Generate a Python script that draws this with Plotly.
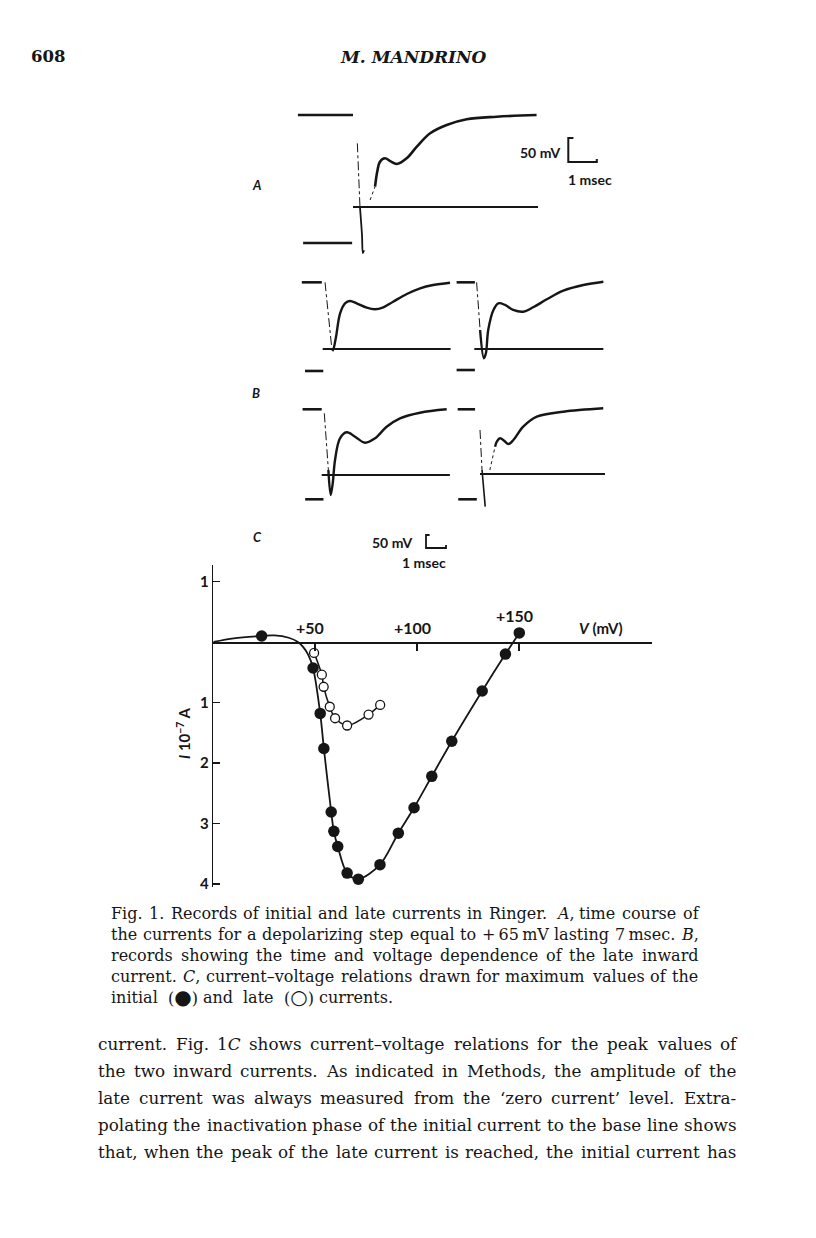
import re
import plotly.graph_objects as go

# Reference page is 816 x 1238; the browser page adds an 8 px body margin,
# so the figure itself is 800 x 1222 and all reference pixels are shifted by 8.
PAGE_W, PAGE_H = 816, 1238
OFF = 8
FW, FH = PAGE_W - 2 * OFF, PAGE_H - 2 * OFF
INK = "#161616"

# ---------------- Fig. 1C : current-voltage relations ----------------
# V in mV, I in units of 1e-7 A (negative = inward, plotted downward)
init_v = [23.7, 48.9, 52.4, 54.2, 57.8, 59.1, 61.0, 65.6, 71.1, 81.7, 90.7, 98.4,
          107.1, 116.9, 131.8, 143.2, 150.0]
init_i = [0.10, -0.43, -1.18, -1.76, -2.81, -3.13, -3.38, -3.82, -3.92, -3.68, -3.16,
          -2.74, -2.22, -1.64, -0.81, -0.20, 0.15]
late_v = [49.4, 53.2, 54.1, 57.1, 59.7, 65.6, 76.1, 81.8]
late_i = [-0.18, -0.54, -0.74, -1.07, -1.26, -1.38, -1.20, -1.04]
# hand-drawn smooth curve through the initial-current points
init_curve_v = [0, 10, 23.7, 30, 37, 41.5, 44, 46.5, 48.9, 52.4, 54.2, 57.8, 59.1, 61.0,
                65.6, 71.1, 81.7, 90.7, 98.4, 107.1, 116.9, 131.8, 143.2, 150.0]
init_curve_i = [0, 0.06, 0.10, 0.11, 0.07, 0.0, -0.08, -0.21, -0.43, -1.18, -1.76, -2.81,
                -3.13, -3.38, -3.82, -3.92, -3.68, -3.16, -2.74, -2.22, -1.64, -0.81,
                -0.20, 0.15]
y_tick_vals = [1, -1, -2, -3, -4]
y_tick_text = ["1", "1", "2", "3", "4"]
x_tick_vals = [50, 100, 150]
x_tick_text = ["+50", "+100", "+150"]

# ---------------- Fig. 1A / 1B : records (t in msec, v in mV-scale) ----------------
A_hold_t, A_hold_v = [-1.90, 0.00], [191.7, 191.7]
A_step_t, A_step_v = [-1.72, -0.03], [-75.0, -75.0]
A_base_t, A_base_v = [0.0, 6.38], [0.0, 0.0]
A_art_t, A_art_v = [0.15, 0.24], [132.7, 0.6]
A_dip_t, A_dip_v = [0.24, 0.31, 0.34, 0.38], [0.0, -58.0, -96.0, -90.0]
A_gap_t, A_gap_v = [0.59, 0.76], [14.6, 42.3]
A_curve_t = [0.76, 0.84, 0.93, 1.10, 1.30, 1.51, 1.85, 2.20, 2.66, 3.23, 3.92, 4.96, 6.33]
A_curve_v = [42.3, 75.0, 94.4, 101.5, 95.0, 89.6, 101.5, 125.6, 153.5, 170.8, 182.7, 188.1, 191.7]

B1_hold_t, B1_hold_v = [-0.72, -0.03], [138.9, 138.9]
B1_step_t, B1_step_v = [-0.61, 0.02], [-45.8, -45.8]
B1_base_t, B1_base_v = [0.0, 4.41], [0.0, 0.0]
B1_art_t, B1_art_v = [0.08, 0.31], [139.0, 3.5]
B1_curve_t = [0.33, 0.37, 0.46, 0.60, 0.77, 0.94, 1.17, 1.52, 1.80, 2.09, 2.43, 2.90, 3.36, 3.81, 4.39]
B1_curve_v = [-4.0, 0.0, 25.6, 74.4, 95.2, 100.0, 95.2, 86.0, 82.7, 86.9, 98.5, 114.6, 126.5, 133.3, 138.1]

B2_hold_t, B2_hold_v = [-0.61, 0.02], [138.9, 138.9]
B2_step_t, B2_step_v = [-0.61, 0.02], [-43.8, -43.8]
B2_base_t, B2_base_v = [0.0, 4.45], [0.0, 0.0]
B2_art_t, B2_art_v = [0.08, 0.20], [139.0, 39.6]
B2_curve_t = [0.20, 0.33, 0.40, 0.48, 0.66, 0.83, 1.06, 1.34, 1.69, 2.03, 2.50, 3.07, 3.76, 4.45]
B2_curve_v = [39.6, -19.4, -9.0, 39.6, 81.3, 95.2, 91.7, 81.3, 77.7, 86.9, 103.5, 121.5, 133.3, 140.2]

B3_hold_t, B3_hold_v = [-0.66, 0.0], [136.9, 136.9]
B3_step_t, B3_step_v = [-0.57, 0.06], [-50.6, -50.6]
B3_base_t, B3_base_v = [0.0, 4.42], [0.0, 0.0]
B3_art_t, B3_art_v = [0.09, 0.23], [128.5, 10.4]
B3_curve_t = [0.23, 0.31, 0.38, 0.46, 0.63, 0.86, 1.15, 1.49, 1.84, 2.24, 2.70, 3.39, 4.31]
B3_curve_v = [10.4, -41.7, -17.3, 31.3, 76.5, 89.0, 79.8, 67.3, 76.5, 100.6, 118.1, 129.8, 136.9]

B4_hold_t, B4_hold_v = [-0.77, -0.17], [134.8, 134.8]
B4_step_t, B4_step_v = [-0.75, -0.11], [-52.7, -52.7]
B4_base_t, B4_base_v = [0.0, 4.31], [0.0, 0.0]
B4_art_t, B4_art_v = [0.0, 0.07], [91.7, 8.3]
B4_dip_t, B4_dip_v = [0.07, 0.18], [8.3, -68.1]
B4_gap_t, B4_gap_v = [0.34, 0.52], [8.3, 56.9]
B4_curve_t = [0.52, 0.58, 0.69, 0.83, 0.98, 1.15, 1.49, 1.96, 2.87, 4.25]
B4_curve_v = [56.9, 67.3, 74.4, 69.4, 62.5, 70.8, 98.5, 119.4, 129.8, 136.9]

# calibration brackets: 50 mV vertical, 1 msec horizontal
scale_t = [0.18, 0.0, 0.0, 1.0, 1.0]
scaleA_v = [50.0, 50.0, 0.0, 0.0, 6.0]
scaleB_v = [50.0, 50.0, 0.0, 0.0, 12.0]

# ---------------- text ----------------
header_page = "608"
header_author = "M. MANDRINO"
BIG = "<span style='font-size:20px'>{}</span>"
caption_lines = [
    "Fig. 1. Records of initial and late currents in Ringer. <i>A</i>, time course of",
    "the currents for a depolarizing step equal to +\u200965\u2009mV lasting 7\u2009msec. <i>B</i>,",
    "records showing the time and voltage dependence of the late inward",
    "current. <i>C</i>, current\u2013voltage relations drawn for maximum values of the",
    "initial (" + BIG.format("\u25cf") + ") and late (" + BIG.format("\u25cb") + ") currents.",
]
body_lines = [
    "current. Fig. 1<i>C</i> shows current\u2013voltage relations for the peak values of",
    "the two inward currents. As indicated in Methods, the amplitude of the",
    "late current was always measured from the \u2018zero current\u2019 level. Extra-",
    "polating the inactivation phase of the initial current to the base line shows",
    "that, when the peak of the late current is reached, the initial current has",
]


def fx(x):
    return (x - OFF) / FW


def fy(y):
    return 1 - (y - OFF) / FH


fig = go.Figure()
layout = {}

# ---- page frames for the records (origin ref-pixel, px per msec, px per mV) ----
frames = {
    2: (353.0, 207.0, 29.0, 0.48),    # A
    3: (322.7, 349.0, 29.0, 0.48),    # B top-left
    4: (474.3, 349.0, 29.0, 0.48),    # B top-right
    5: (321.7, 475.0, 29.0, 0.48),    # B bottom-left
    6: (480.0, 474.0, 29.0, 0.48),    # B bottom-right
    7: (568.3, 162.0, 28.5, 24 / 50),  # A calibration
    8: (426.0, 548.0, 20.0, 13 / 50),  # B calibration
}
for k, (x0, y0, pt, pv) in frames.items():
    x0f, y0f = x0 - OFF, y0 - OFF
    layout[f"xaxis{k}"] = dict(domain=[0, 1], range=[-x0f / pt, (FW - x0f) / pt],
                               visible=False, anchor=f"y{k}", fixedrange=True)
    layout[f"yaxis{k}"] = dict(domain=[0, 1], range=[(y0f - FH) / pv, y0f / pv],
                               visible=False, anchor=f"x{k}", fixedrange=True)


def seg(k, t, v, width=2.4, dash=None, spline=False):
    fig.add_trace(go.Scatter(
        x=t, y=v, mode="lines", xaxis=f"x{k}", yaxis=f"y{k}",
        line=dict(color=INK, width=width, dash=dash,
                  shape="spline" if spline else "linear", smoothing=1.0),
        hoverinfo="skip", showlegend=False))


records = [
    (2, A_hold_t, A_hold_v, A_step_t, A_step_v, A_base_t, A_base_v, A_art_t, A_art_v),
    (3, B1_hold_t, B1_hold_v, B1_step_t, B1_step_v, B1_base_t, B1_base_v, B1_art_t, B1_art_v),
    (4, B2_hold_t, B2_hold_v, B2_step_t, B2_step_v, B2_base_t, B2_base_v, B2_art_t, B2_art_v),
    (5, B3_hold_t, B3_hold_v, B3_step_t, B3_step_v, B3_base_t, B3_base_v, B3_art_t, B3_art_v),
    (6, B4_hold_t, B4_hold_v, B4_step_t, B4_step_v, B4_base_t, B4_base_v, B4_art_t, B4_art_v),
]
for k, ht, hv, st, sv, bt, bv, at, av in records:
    seg(k, ht, hv, width=2.6)
    seg(k, st, sv, width=2.6)
    seg(k, bt, bv, width=2.2)
    seg(k, at, av, width=1.0, dash="dashdot")

seg(2, A_dip_t, A_dip_v, width=1.8, spline=True)
seg(2, A_gap_t, A_gap_v, width=1.0, dash="dot")
seg(2, A_curve_t, A_curve_v, width=2.6, spline=True)
seg(3, B1_curve_t, B1_curve_v, width=2.4, spline=True)
seg(4, B2_curve_t, B2_curve_v, width=2.4, spline=True)
seg(5, B3_curve_t, B3_curve_v, width=2.4, spline=True)
seg(6, B4_dip_t, B4_dip_v, width=1.6)
seg(6, B4_gap_t, B4_gap_v, width=1.0, dash="dot")
seg(6, B4_curve_t, B4_curve_v, width=2.4, spline=True)
seg(7, scale_t, scaleA_v, width=2.0)
seg(8, scale_t, scaleB_v, width=1.8)

# ---- Fig. 1C ----
fig.add_trace(go.Scatter(x=init_curve_v, y=init_curve_i, mode="lines",
                         line=dict(color=INK, width=1.8, shape="spline", smoothing=0.9),
                         hoverinfo="skip", showlegend=False, cliponaxis=False))
fig.add_trace(go.Scatter(x=late_v, y=late_i, mode="lines",
                         line=dict(color=INK, width=1.5, shape="spline", smoothing=0.8),
                         hoverinfo="skip", showlegend=False, cliponaxis=False))
fig.add_trace(go.Scatter(x=init_v, y=init_i, mode="markers", name="initial",
                         marker=dict(symbol="circle", size=11.5, color=INK, line=dict(width=0)),
                         showlegend=False, cliponaxis=False))
fig.add_trace(go.Scatter(x=late_v, y=late_i, mode="markers", name="late",
                         marker=dict(symbol="circle", size=9, color="white",
                                     line=dict(color=INK, width=1.3)),
                         showlegend=False, cliponaxis=False))

axis_px = dict(left=213.3, right=651.7, top=565.0, bottom=887.0, zero=642.0)
px_per_mv = 2.04
px_per_unit = 60.5
x_range = [0, (axis_px["right"] - axis_px["left"]) / px_per_mv]
y_range = [-(axis_px["bottom"] - axis_px["zero"]) / px_per_unit,
           (axis_px["zero"] - axis_px["top"]) / px_per_unit]

layout["xaxis"] = dict(domain=[fx(axis_px["left"]), fx(axis_px["right"])], range=x_range,
                       anchor="free", position=fy(axis_px["zero"]),
                       showline=True, linecolor=INK, linewidth=1.6,
                       ticks="outside", ticklen=7, tickwidth=1.6, tickcolor=INK,
                       tickvals=x_tick_vals, showticklabels=False,
                       showgrid=False, zeroline=False, fixedrange=True)
layout["yaxis"] = dict(domain=[fy(axis_px["bottom"]), fy(axis_px["top"])], range=y_range,
                       anchor="x", showline=True, linecolor=INK, linewidth=1.6,
                       ticks="inside", ticklen=7, tickwidth=1.6, tickcolor=INK,
                       tickvals=y_tick_vals, ticktext=y_tick_text,
                       tickfont=dict(family="Lato", size=15, color=INK, weight="bold"),
                       showgrid=False, zeroline=False, fixedrange=True)

SERIF = "DejaVu Serif"
ann = []


def text(x, y, s, size, family="Lato", xanchor="center", weight="normal", angle=0):
    ann.append(dict(x=fx(x), y=fy(y), xref="paper", yref="paper", text=s, showarrow=False,
                    xanchor=xanchor, yanchor="middle", textangle=angle, borderpad=0,
                    font=dict(family=family, size=size, color=INK, weight=weight)))


# tick labels of the voltage axis (drawn above the axis line)
label_lift = [15, 15, 27]
for v, s, lift in zip(x_tick_vals, x_tick_text, label_lift):
    ann.append(dict(x=v, y=0, xref="x", yref="y", text=s, showarrow=False, xshift=-5,
                    yshift=lift, xanchor="center", yanchor="middle",
                    font=dict(family="Lato", size=16, color=INK, weight="bold")))

text(601, 628, "<i>V</i> (mV)", 15, weight="bold")
text(183, 733, "<i>I</i> 10<sup>\u22127</sup> A", 15, weight="bold", angle=-90)

# panel letters & calibration labels
text(256, 185, "<i>A</i>", 13, weight="bold")
text(256, 393, "<i>B</i>", 13, weight="bold")
text(257, 537, "<i>C</i>", 13, weight="bold")
text(540, 153, "50 mV", 14, weight="bold")
text(590, 179, "1 msec", 14, weight="bold")
text(392, 542, "50 mV", 14, weight="bold")
text(424, 562, "1 msec", 14, weight="bold")

# running head
text(30, 57, "<b>" + header_page + "</b>", 16.5, family=SERIF, xanchor="left")
text(413, 57, "<b><i>" + header_author + "</i></b>", 17, family=SERIF)

# ---- justified serif text: approximate DejaVu Serif advance widths (em) ----
EM = {" ": .318, "a": .596, "b": .640, "c": .552, "d": .640, "e": .592, "f": .361,
      "g": .640, "h": .640, "i": .320, "j": .320, "k": .606, "l": .320, "m": .960,
      "n": .640, "o": .602, "p": .640, "q": .640, "r": .478, "s": .513, "t": .402,
      "u": .640, "v": .570, "w": .822, "x": .570, "y": .570, "z": .524,
      "A": .722, "B": .731, "C": .740, "E": .703, "F": .671, "M": .994, "R": .759,
      ".": .318, ",": .318, "-": .338, "+": .838, "(": .390, ")": .390,
      "\u2013": .500, "\u2018": .318, "\u2019": .318, "\u2009": .200,
      "\u25cf": .75, "\u25cb": .75}


def em_width(word):
    plain = re.sub(r"<[^>]+>", "", word)
    return sum(EM.get(ch, .636) for ch in plain)


def justified(lines, ys, left, rights, size):
    for s, yy, right in zip(lines, ys, rights):
        words = s.replace("<span style=", "<span\u00a0style=").split(" ")
        words = [w.replace("\u00a0style=", " style=") for w in words]
        widths = [em_width(w) * size for w in words]
        gap = (right - left - sum(widths)) / (len(words) - 1)
        x = left
        for w, wd in zip(words, widths):
            ann.append(dict(x=fx(x), y=fy(yy), xref="paper", yref="paper", text=w,
                            showarrow=False, xanchor="left", yanchor="middle", borderpad=0,
                            font=dict(family=SERIF, size=size, color=INK)))
            x += wd + gap


cap_y = [913, 934, 955, 976, 997]
cap_right = [697, 697, 697, 697, 392]
justified(caption_lines, cap_y, 110, cap_right, 16.0)

body_y = [1044, 1071, 1098, 1125, 1152]
body_right = [735, 735, 735, 735, 735]
justified(body_lines, body_y, 97, body_right, 16.8)

layout["annotations"] = ann
fig.update_layout(**layout)
fig.update_layout(width=FW, height=FH, autosize=False, template="none",
                  margin=dict(l=0, r=0, t=0, b=0),
                  paper_bgcolor="white", plot_bgcolor="rgba(0,0,0,0)",
                  showlegend=False, hovermode=False)

fig.write_html("out.html", config={"displayModeBar": False, "staticPlot": True})
